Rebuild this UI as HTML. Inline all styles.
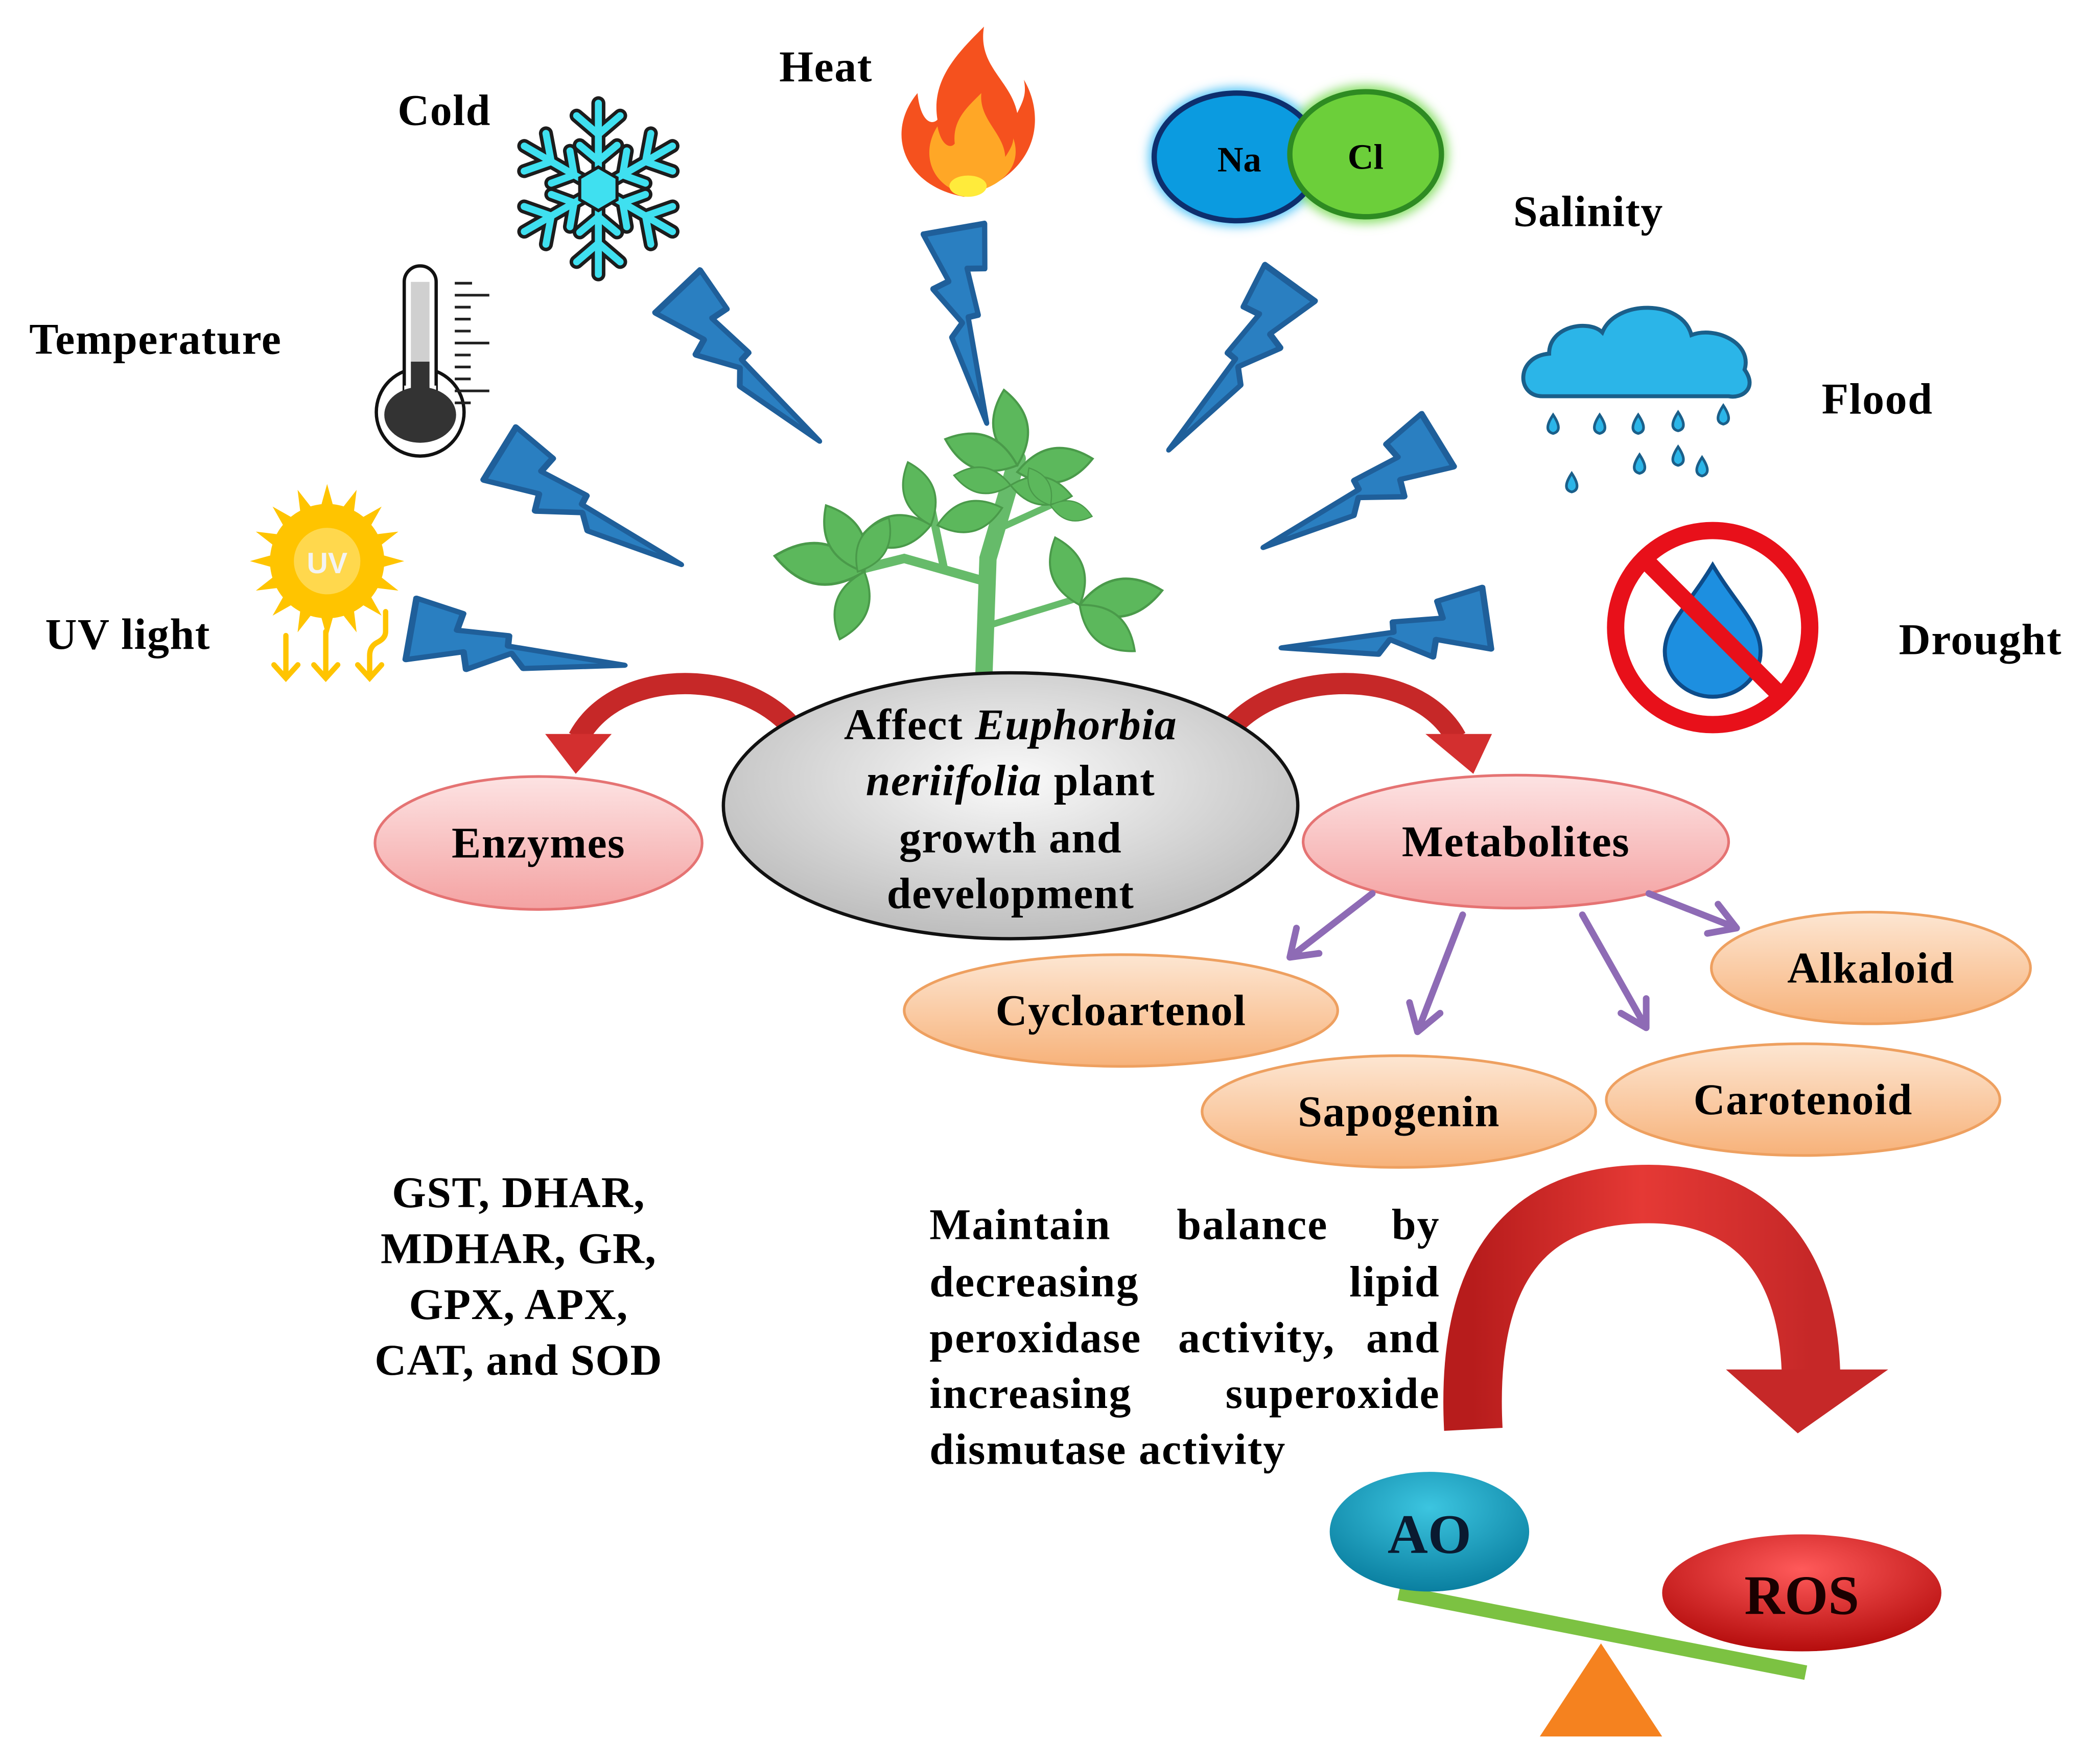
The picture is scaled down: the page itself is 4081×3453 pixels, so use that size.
<!DOCTYPE html>
<html><head><meta charset="utf-8"><style>html,body{margin:0;padding:0;background:#fff}svg{display:block}text{font-family:"Liberation Serif",serif;font-weight:bold}</style></head><body>
<svg width="4081" height="3453" viewBox="0 0 1568 1326.7" xmlns="http://www.w3.org/2000/svg">
<defs>
<polygon id="bolt" points="2,-22 24,-16 22,-6 46,-6 46,0 100,4 54,12 48,4 28,16 26,6 0,14" fill="#2a7fc1" stroke="#1f5f9a" stroke-width="3" stroke-linejoin="round"/>
<radialGradient id="gray" cx="50%" cy="40%" r="60%"><stop offset="0" stop-color="#fafafa"/><stop offset="1" stop-color="#bdbdbd"/></radialGradient>
<linearGradient id="pink" x1="0" y1="0" x2="0" y2="1"><stop offset="0" stop-color="#fde3e3"/><stop offset="1" stop-color="#f4a2a2"/></linearGradient>
<linearGradient id="orng" x1="0" y1="0" x2="0" y2="1"><stop offset="0" stop-color="#fde6d2"/><stop offset="1" stop-color="#f7b27a"/></linearGradient>
<linearGradient id="redg" x1="0" y1="0" x2="1" y2="0"><stop offset="0" stop-color="#b71c1c"/><stop offset="0.5" stop-color="#e53935"/><stop offset="1" stop-color="#c62828"/></linearGradient>
<radialGradient id="ao" cx="50%" cy="30%" r="70%"><stop offset="0" stop-color="#3cc5e0"/><stop offset="1" stop-color="#0a7fa0"/></radialGradient>
<radialGradient id="ros" cx="50%" cy="30%" r="70%"><stop offset="0" stop-color="#ff5a5a"/><stop offset="1" stop-color="#b50d0d"/></radialGradient>
<path id="leaf" d="M0,0 Q18,-16 36,0 Q18,16 0,0Z" fill="#5cb85c" stroke="#4a9a4a" stroke-width="1"/>
<filter id="glow"><feGaussianBlur stdDeviation="4"/></filter>
</defs>

<!-- labels -->
<g font-size="33" fill="#000" letter-spacing="0.6">
<text x="299" y="94">Cold</text>
<text x="586" y="61">Heat</text>
<text x="1138" y="170">Salinity</text>
<text x="22" y="266">Temperature</text>
<text x="1370" y="311">Flood</text>
<text x="34" y="488">UV light</text>
<text x="1428" y="492">Drought</text>
</g>

<!-- bolts -->
<use href="#bolt" transform="translate(505,222) rotate(42.7) scale(1.56,1.3)"/>
<use href="#bolt" transform="translate(712,172) rotate(76.4) scale(1.49,1.3)"/>
<use href="#bolt" transform="translate(975,215) rotate(129.8) scale(1.56,-1.3)"/>
<use href="#bolt" transform="translate(372,345) rotate(27.7) scale(1.61,1.3)"/>
<use href="#bolt" transform="translate(1085,335) rotate(152.3) scale(1.55,-1.3)"/>
<use href="#bolt" transform="translate(307,478) rotate(6) scale(1.64,1.3)"/>
<use href="#bolt" transform="translate(1120,470) rotate(175.6) scale(1.57,-1.3)"/>

<!-- snowflake -->
<g transform="translate(450,142) scale(1.17)" stroke="#1c1c1c" stroke-width="9" stroke-linecap="round" fill="none">
<g id="arms"><line x1="0" y1="0" x2="0" y2="-55"/><line x1="0" y1="-35" x2="-14" y2="-47"/><line x1="0" y1="-35" x2="14" y2="-47"/><line x1="0" y1="-18" x2="-12" y2="-28"/><line x1="0" y1="-18" x2="12" y2="-28"/></g>
<use href="#arms" transform="rotate(60)"/><use href="#arms" transform="rotate(120)"/><use href="#arms" transform="rotate(180)"/><use href="#arms" transform="rotate(240)"/><use href="#arms" transform="rotate(300)"/>
</g>
<g transform="translate(450,142) scale(1.17)" stroke="#3fe0f0" stroke-width="4.5" stroke-linecap="round" fill="none">
<g id="arms2"><line x1="0" y1="0" x2="0" y2="-55"/><line x1="0" y1="-35" x2="-14" y2="-47"/><line x1="0" y1="-35" x2="14" y2="-47"/><line x1="0" y1="-18" x2="-12" y2="-28"/><line x1="0" y1="-18" x2="12" y2="-28"/></g>
<use href="#arms2" transform="rotate(60)"/><use href="#arms2" transform="rotate(120)"/><use href="#arms2" transform="rotate(180)"/><use href="#arms2" transform="rotate(240)"/><use href="#arms2" transform="rotate(300)"/>
<polygon points="0,-14 12,-7 12,7 0,14 -12,7 -12,-7" fill="#3fe0f0" stroke="#1c1c1c" stroke-width="2"/>
</g>

<!-- flame -->
<path d="M725,148 C680,140 665,100 690,70 C692,90 700,95 705,90 C700,60 720,40 740,20 C735,50 760,60 765,85 C770,75 772,70 770,60 C785,85 785,130 725,148Z" fill="#f5511e"/>
<path d="M726,146 C700,140 692,115 705,95 C708,110 715,112 718,108 C716,90 728,80 738,70 C736,90 755,100 756,118 C760,112 762,108 762,104 C768,120 760,140 726,146Z" fill="#ffa726"/>
<ellipse cx="728" cy="140" rx="14" ry="8" fill="#ffeb3b"/>

<!-- Na Cl -->
<ellipse cx="930" cy="118" rx="66" ry="52" fill="#4fc3f7" filter="url(#glow)"/>
<ellipse cx="1027" cy="116" rx="62" ry="52" fill="#8be06a" filter="url(#glow)"/>
<ellipse cx="930" cy="118" rx="62" ry="48" fill="#0b9be0" stroke="#0d2f6e" stroke-width="4"/>
<ellipse cx="1027" cy="116" rx="57" ry="47" fill="#6ccf3a" stroke="#2e8b22" stroke-width="4"/>
<text x="932" y="129" font-size="27" text-anchor="middle">Na</text>
<text x="1027" y="127" font-size="27" text-anchor="middle">Cl</text>

<!-- thermometer -->
<g>
<circle cx="316" cy="310" r="33" fill="#fff" stroke="#111" stroke-width="2.5"/>
<path d="M304,300 V212 a12,12 0 0 1 24,0 V300" fill="#fff" stroke="#111" stroke-width="2.5"/>
<rect x="304" y="290" width="24" height="15" fill="#fff"/>
<rect x="309" y="212" width="14" height="62" fill="#d0d0d0"/>
<rect x="309" y="272" width="14" height="40" fill="#333"/>
<ellipse cx="316" cy="312" rx="27" ry="21" fill="#333"/>
<g stroke="#222" stroke-width="2"><line x1="342" y1="213" x2="355" y2="213"/><line x1="342" y1="222" x2="368" y2="222"/><line x1="342" y1="231" x2="354" y2="231"/><line x1="342" y1="240" x2="354" y2="240"/><line x1="342" y1="249" x2="354" y2="249"/><line x1="342" y1="258" x2="368" y2="258"/><line x1="342" y1="267" x2="354" y2="267"/><line x1="342" y1="276" x2="354" y2="276"/><line x1="342" y1="285" x2="354" y2="285"/><line x1="342" y1="294" x2="368" y2="294"/><line x1="342" y1="303" x2="354" y2="303"/></g>
</g>

<!-- cloud & rain -->
<path d="M1160,298 C1140,298 1140,268 1165,266 C1165,245 1195,240 1205,250 C1215,225 1265,225 1272,252 C1290,245 1318,258 1312,278 C1322,292 1310,300 1300,298 Z" fill="#2bb5e8" stroke="#1a5f8a" stroke-width="3"/>
<g fill="#2bb5e8" stroke="#1a5f8a" stroke-width="2">
<path d="M1168,312 q-8,12 0,14 q8,-2 0,-14z"/><path d="M1203,312 q-8,12 0,14 q8,-2 0,-14z"/><path d="M1232,312 q-8,12 0,14 q8,-2 0,-14z"/><path d="M1262,310 q-8,12 0,14 q8,-2 0,-14z"/><path d="M1296,305 q-8,12 0,14 q8,-2 0,-14z"/>
<path d="M1182,356 q-8,12 0,14 q8,-2 0,-14z"/><path d="M1233,342 q-8,12 0,14 q8,-2 0,-14z"/><path d="M1262,336 q-8,12 0,14 q8,-2 0,-14z"/><path d="M1280,344 q-8,12 0,14 q8,-2 0,-14z"/>
</g>

<!-- no water -->
<path d="M1288,425 C1270,455 1252,470 1252,490 a36,34 0 0 0 72,0 C1324,470 1306,455 1288,425Z" fill="#1d8fe0" stroke="#0d4c8a" stroke-width="3"/>
<circle cx="1288" cy="472" r="73" fill="none" stroke="#e8101a" stroke-width="13"/>
<line x1="1237" y1="421" x2="1339" y2="523" stroke="#e8101a" stroke-width="13"/>

<!-- sun -->
<g transform="translate(246,422)">
<g fill="#ffc400">
<polygon points="0,-58 5,-40 -5,-40" id="ray"/>
<use href="#ray" transform="rotate(22.5)"/><use href="#ray" transform="rotate(45)"/><use href="#ray" transform="rotate(67.5)"/><use href="#ray" transform="rotate(90)"/><use href="#ray" transform="rotate(112.5)"/><use href="#ray" transform="rotate(135)"/><use href="#ray" transform="rotate(157.5)"/><use href="#ray" transform="rotate(180)"/><use href="#ray" transform="rotate(202.5)"/><use href="#ray" transform="rotate(225)"/><use href="#ray" transform="rotate(247.5)"/><use href="#ray" transform="rotate(270)"/><use href="#ray" transform="rotate(292.5)"/><use href="#ray" transform="rotate(315)"/><use href="#ray" transform="rotate(337.5)"/>
<circle r="43" fill="#ffc400"/>
</g>
<circle r="25" fill="#ffd84d"/>
<text y="9" font-size="22" text-anchor="middle" fill="#f3f3f3" style="font-family:'Liberation Sans',sans-serif">UV</text>
</g>
<g stroke="#ffc400" stroke-width="4" fill="none" stroke-linecap="round">
<path d="M215,478 v32 M206,500 l9,10 l9,-10"/><path d="M245,475 v35 M236,500 l9,10 l9,-10"/><path d="M290,460 v15 q0,5 -6,8 q-6,3 -6,10 v17 M269,500 l9,10 l9,-10"/>
</g>

<!-- plant -->
<g stroke="#66bb6a" stroke-linecap="round" fill="none">
<path d="M740,506 L743,420 L765,345" stroke-width="13"/>
<path d="M740,437 L680,420 L640,430" stroke-width="7"/>
<path d="M710,428 L700,380" stroke-width="6"/>
<path d="M746,400 L790,380" stroke-width="5"/>
<path d="M745,470 L810,450" stroke-width="5"/>
</g>
<g>
<use href="#leaf" transform="translate(700,395) rotate(-110) scale(1.4)"/>
<use href="#leaf" transform="translate(700,395) rotate(170) scale(1.5)"/>
<use href="#leaf" transform="translate(705,395) rotate(-15) scale(1.4)"/>
<use href="#leaf" transform="translate(650,430) rotate(190) scale(1.9)"/>
<use href="#leaf" transform="translate(650,430) rotate(-120) scale(1.6)"/>
<use href="#leaf" transform="translate(650,430) rotate(110) scale(1.5)"/>
<use href="#leaf" transform="translate(645,430) rotate(-60) scale(1.3)"/>
<use href="#leaf" transform="translate(765,350) rotate(-100) scale(1.6)"/>
<use href="#leaf" transform="translate(765,350) rotate(200) scale(1.6)"/>
<use href="#leaf" transform="translate(765,355) rotate(-10) scale(1.6)"/>
<use href="#leaf" transform="translate(760,365) rotate(190) scale(1.2)"/>
<use href="#leaf" transform="translate(760,365) rotate(10) scale(1.3)"/>
<use href="#leaf" transform="translate(790,380) rotate(-120) scale(0.9)"/>
<use href="#leaf" transform="translate(790,380) rotate(15) scale(0.9)"/>
<use href="#leaf" transform="translate(812,455) rotate(-110) scale(1.5)"/>
<use href="#leaf" transform="translate(812,455) rotate(-10) scale(1.75)"/>
<use href="#leaf" transform="translate(812,455) rotate(40) scale(1.5)"/>
</g>

<!-- red curved arrows top -->
<path d="M612,582 C600,505 470,490 435,555" fill="none" stroke="#c62828" stroke-width="16"/>
<polygon points="410,552 460,552 433,582" fill="#d32f2f"/>
<path d="M910,582 C920,505 1060,490 1095,555" fill="none" stroke="#c62828" stroke-width="16"/>
<polygon points="1072,552 1122,552 1108,582" fill="#d32f2f"/>

<!-- central ellipse -->
<ellipse cx="760" cy="606" rx="216" ry="100" fill="url(#gray)" stroke="#111" stroke-width="2.5"/>
<g font-size="33" text-anchor="middle" letter-spacing="0.6">
<text x="760" y="556">Affect <tspan font-style="italic">Euphorbia</tspan></text>
<text x="760" y="598"><tspan font-style="italic">neriifolia</tspan> plant</text>
<text x="760" y="641">growth and</text>
<text x="760" y="683">development</text>
</g>

<!-- enzymes/metabolites -->
<ellipse cx="405" cy="634" rx="123" ry="50" fill="url(#pink)" stroke="#e57373" stroke-width="2"/>
<text x="405" y="645" font-size="33" text-anchor="middle" letter-spacing="0.6">Enzymes</text>
<ellipse cx="1140" cy="633" rx="160" ry="50" fill="url(#pink)" stroke="#e57373" stroke-width="2"/>
<text x="1140" y="644" font-size="33" text-anchor="middle" letter-spacing="0.6">Metabolites</text>

<!-- purple arrows -->
<g stroke="#8e6bb5" stroke-width="5" fill="none" stroke-linecap="round">
<path d="M1032,672 L970,720 M970,720 l5,-22 M970,720 l22,-3"/>
<path d="M1100,688 L1066,776 M1066,776 l-6,-22 M1066,776 l17,-14"/>
<path d="M1190,688 L1238,773 M1238,773 l0,-22 M1238,773 l-19,-11"/>
<path d="M1240,672 L1306,698 M1306,698 l-14,-18 M1306,698 l-22,4"/>
</g>

<!-- orange ellipses -->
<g stroke="#eea060" stroke-width="2" fill="url(#orng)">
<ellipse cx="843" cy="760" rx="163" ry="42"/>
<ellipse cx="1407" cy="728" rx="120" ry="42"/>
<ellipse cx="1052" cy="836" rx="148" ry="42"/>
<ellipse cx="1356" cy="827" rx="148" ry="42"/>
</g>
<g font-size="33" text-anchor="middle" letter-spacing="0.6">
<text x="843" y="771">Cycloartenol</text>
<text x="1407" y="739">Alkaloid</text>
<text x="1052" y="847">Sapogenin</text>
<text x="1356" y="838">Carotenoid</text>
</g>

<!-- enzyme list -->
<g font-size="33" text-anchor="middle" letter-spacing="0.5">
<text x="390" y="908">GST, DHAR,</text>
<text x="390" y="950">MDHAR, GR,</text>
<text x="390" y="992">GPX, APX,</text>
<text x="390" y="1034">CAT, and SOD</text>
</g>

<!-- paragraph -->
<g font-size="33" letter-spacing="0.8">
<text x="699" y="932">Maintain</text><text x="885" y="932">balance</text><text x="1083" y="932" text-anchor="end">by</text>
<text x="699" y="975">decreasing</text><text x="1083" y="975" text-anchor="end">lipid</text>
<text x="699" y="1017">peroxidase</text><text x="886" y="1017">activity,</text><text x="1083" y="1017" text-anchor="end">and</text>
<text x="699" y="1059">increasing</text><text x="1083" y="1059" text-anchor="end">superoxide</text>
<text x="699" y="1101">dismutase activity</text>
</g>

<!-- big red arch -->
<path d="M1108,1075 C1100,920 1180,898 1240,898 C1310,898 1360,940 1362,1035" fill="none" stroke="url(#redg)" stroke-width="44"/>
<polygon points="1298,1030 1420,1030 1352,1078" fill="#c62828"/>

<!-- balance -->
<line x1="1052" y1="1198" x2="1358" y2="1258" stroke="#7cc242" stroke-width="11"/>
<ellipse cx="1075" cy="1152" rx="75" ry="45" fill="url(#ao)"/>
<text x="1075" y="1168" font-size="42" text-anchor="middle" fill="#0a1a30">AO</text>
<ellipse cx="1355" cy="1198" rx="105" ry="44" fill="url(#ros)"/>
<text x="1355" y="1214" font-size="42" text-anchor="middle" fill="#1a0000">ROS</text>
<polygon points="1158,1306 1250,1306 1204,1236" fill="#f5821f"/>
</svg>
</body></html>
